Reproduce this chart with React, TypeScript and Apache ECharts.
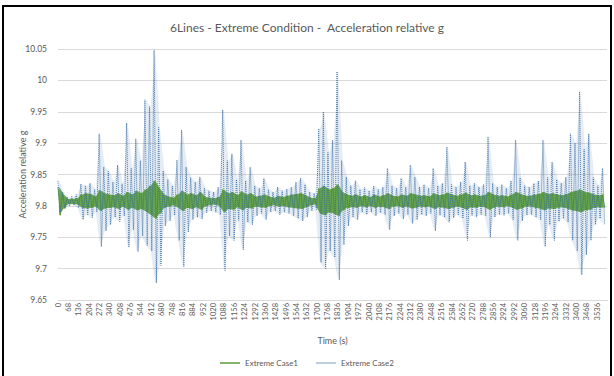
import React, { useEffect, useRef } from "react";
import * as echarts from "echarts";

// Time step (s) between envelope samples
const SAMPLE_STEP = 30;

const seriesNames = ["Extreme Case1", "Extreme Case2"];
const titleText = "6Lines - Extreme Condition -  Acceleration relative g";
const yAxisTitle = "Acceleration relative g";
const xAxisTitle = "Time (s)";

// Extreme Case1 (green) – upper / lower envelope per 30 s window
const case1Hi = [
  9.830, 9.818, 9.811, 9.811, 9.812, 9.818, 9.820, 9.819, 9.815, 9.825,
  9.820, 9.818, 9.817, 9.820, 9.816, 9.822, 9.818, 9.824, 9.820, 9.826,
  9.832, 9.840, 9.828, 9.818, 9.815, 9.813, 9.818, 9.824, 9.818, 9.820,
  9.817, 9.822, 9.814, 9.813, 9.812, 9.814, 9.826, 9.820, 9.822, 9.817,
  9.823, 9.818, 9.820, 9.815, 9.816, 9.818, 9.815, 9.813, 9.816, 9.814,
  9.816, 9.818, 9.819, 9.820, 9.817, 9.813, 9.812, 9.828, 9.832, 9.826,
  9.828, 9.834, 9.822, 9.818, 9.816, 9.818, 9.815, 9.817, 9.814, 9.818,
  9.815, 9.817, 9.820, 9.816, 9.815, 9.818, 9.816, 9.820, 9.818, 9.816,
  9.817, 9.815, 9.820, 9.817, 9.818, 9.821, 9.818, 9.816, 9.818, 9.821,
  9.817, 9.818, 9.816, 9.817, 9.822, 9.818, 9.816, 9.817, 9.815, 9.818,
  9.822, 9.819, 9.816, 9.816, 9.818, 9.819, 9.822, 9.819, 9.820, 9.818,
  9.817, 9.819, 9.822, 9.824, 9.826, 9.822, 9.821, 9.818, 9.817, 9.818,
];
const case1Lo = [
  9.785, 9.796, 9.803, 9.803, 9.802, 9.797, 9.796, 9.797, 9.799, 9.792,
  9.796, 9.797, 9.798, 9.795, 9.799, 9.794, 9.797, 9.793, 9.795, 9.791,
  9.786, 9.780, 9.788, 9.797, 9.799, 9.801, 9.797, 9.792, 9.797, 9.795,
  9.798, 9.794, 9.800, 9.801, 9.802, 9.800, 9.790, 9.795, 9.794, 9.798,
  9.793, 9.797, 9.796, 9.799, 9.798, 9.797, 9.800, 9.801, 9.799, 9.800,
  9.798, 9.797, 9.796, 9.795, 9.798, 9.801, 9.802, 9.788, 9.785, 9.790,
  9.788, 9.784, 9.793, 9.797, 9.798, 9.797, 9.800, 9.798, 9.800, 9.797,
  9.799, 9.798, 9.795, 9.799, 9.800, 9.797, 9.799, 9.796, 9.797, 9.799,
  9.798, 9.799, 9.795, 9.798, 9.797, 9.795, 9.797, 9.799, 9.797, 9.794,
  9.798, 9.797, 9.799, 9.798, 9.794, 9.797, 9.799, 9.798, 9.800, 9.797,
  9.794, 9.796, 9.799, 9.799, 9.797, 9.796, 9.793, 9.796, 9.795, 9.797,
  9.798, 9.796, 9.793, 9.792, 9.790, 9.793, 9.794, 9.797, 9.798, 9.797,
];

// Extreme Case2 (blue, dotted) – upper / lower envelope per 30 s window
const case2Hi = [
  9.840, 9.822, 9.814, 9.815, 9.818, 9.835, 9.832, 9.836, 9.826, 9.915,
  9.862, 9.855, 9.838, 9.865, 9.835, 9.932, 9.860, 9.907, 9.872, 9.969,
  9.958, 10.048, 9.925, 9.856, 9.842, 9.832, 9.873, 9.921, 9.862, 9.845,
  9.838, 9.846, 9.828, 9.824, 9.822, 9.830, 9.953, 9.872, 9.883, 9.842,
  9.905, 9.840, 9.862, 9.832, 9.828, 9.844, 9.826, 9.822, 9.830, 9.824,
  9.827, 9.830, 9.838, 9.844, 9.834, 9.822, 9.820, 9.923, 9.950, 9.885,
  9.905, 10.014, 9.872, 9.846, 9.832, 9.840, 9.826, 9.829, 9.824, 9.832,
  9.826, 9.830, 9.860, 9.832, 9.828, 9.844, 9.830, 9.865, 9.846, 9.830,
  9.834, 9.828, 9.860, 9.832, 9.836, 9.894, 9.834, 9.830, 9.838, 9.870,
  9.832, 9.836, 9.830, 9.834, 9.910, 9.836, 9.830, 9.834, 9.828, 9.840,
  9.905, 9.845, 9.832, 9.830, 9.836, 9.840, 9.905, 9.845, 9.870, 9.842,
  9.836, 9.846, 9.915, 9.900, 9.982, 9.890, 9.915, 9.845, 9.832, 9.860,
];
const case2Lo = [
  9.790, 9.796, 9.800, 9.801, 9.797, 9.778, 9.786, 9.781, 9.790, 9.735,
  9.760, 9.770, 9.782, 9.775, 9.784, 9.734, 9.762, 9.727, 9.752, 9.737,
  9.728, 9.677, 9.705, 9.768, 9.776, 9.785, 9.745, 9.703, 9.758, 9.778,
  9.782, 9.779, 9.789, 9.792, 9.790, 9.786, 9.697, 9.752, 9.745, 9.777,
  9.730, 9.774, 9.770, 9.784, 9.788, 9.778, 9.790, 9.792, 9.786, 9.790,
  9.788, 9.784, 9.780, 9.776, 9.782, 9.792, 9.794, 9.710, 9.700, 9.728,
  9.718, 9.682, 9.738, 9.768, 9.782, 9.778, 9.790, 9.786, 9.790, 9.784,
  9.789, 9.786, 9.762, 9.784, 9.788, 9.779, 9.786, 9.772, 9.778, 9.786,
  9.784, 9.788, 9.760, 9.785, 9.782, 9.774, 9.781, 9.786, 9.780, 9.745,
  9.785, 9.782, 9.786, 9.784, 9.750, 9.782, 9.786, 9.785, 9.788, 9.778,
  9.745, 9.776, 9.785, 9.786, 9.782, 9.778, 9.735, 9.770, 9.745, 9.775,
  9.780, 9.774, 9.745, 9.728, 9.690, 9.722, 9.745, 9.770, 9.780, 9.770,
];

// Each window contributes its high value then its low value (the trace's swing)
function buildTrace(hi: number[], lo: number[]): [number, number][] {
  const out: [number, number][] = [];
  for (let i = 0; i < hi.length; i++) {
    out.push([i * SAMPLE_STEP, hi[i]]);
    out.push([i * SAMPLE_STEP + SAMPLE_STEP / 2, lo[i]]);
  }
  return out;
}

const FONT = "Lato, 'Open Sans', sans-serif";
const TEXT = "#595959";
const GREEN = "#5a9c3e";
const BLUE = "#3a6ea5";

// Envelope band (hi edge forward, lo edge back) drawn through the grid's scales
function bandSeries(id: string, hi: number[], lo: number[], color: string, opacity: number, z: number) {
  return {
    id,
    name: id,
    type: "custom",
    silent: true,
    clip: true,
    z,
    data: [[0, hi[0]]],
    renderItem: (_params: any, api: any) => {
      const pts: number[][] = [];
      for (let i = 0; i < hi.length; i++) {
        pts.push(api.coord([i * SAMPLE_STEP + SAMPLE_STEP / 4, hi[i]]));
      }
      for (let i = lo.length - 1; i >= 0; i--) {
        pts.push(api.coord([i * SAMPLE_STEP + SAMPLE_STEP / 4, lo[i]]));
      }
      return {
        type: "polygon",
        shape: { points: pts },
        style: { fill: color, opacity },
      };
    },
  };
}

export default function App() {
  const ref = useRef<HTMLDivElement>(null);

  useEffect(() => {
    document.body.style.margin = "0";
    if (!ref.current) return;
    const chart = echarts.init(ref.current, null, { renderer: "svg" });
    chart.setOption({
      animation: false,
      backgroundColor: "#ffffff",
      textStyle: { fontFamily: FONT },
      title: {
        text: titleText,
        left: "center",
        top: 21,
        padding: 0,
        textStyle: { fontFamily: FONT, fontSize: 12, fontWeight: "normal", color: TEXT },
      },
      graphic: [
        {
          type: "rect",
          silent: true,
          shape: { x: 3, y: 6, width: 608, height: 380 },
          style: { fill: "none", stroke: "#000000", lineWidth: 2 },
        },
      ],
      legend: {
        data: [
          { name: seriesNames[0], icon: "rect", itemStyle: { color: GREEN } },
          { name: seriesNames[1], icon: "rect", itemStyle: { color: "#a9bcd2" } },
        ],
        left: "center",
        top: 354,
        itemWidth: 20,
        itemHeight: 1.5,
        itemGap: 18,
        textStyle: { fontFamily: FONT, fontSize: 8, color: TEXT },
      },
      grid: { left: 58, right: 7, top: 49, bottom: 76 },
      xAxis: {
        type: "value",
        min: 0,
        max: 3600,
        interval: 68,
        name: xAxisTitle,
        nameLocation: "middle",
        nameGap: 36,
        nameMoveOverlap: false,
        nameTextStyle: { fontFamily: FONT, fontSize: 9, color: TEXT },
        axisLine: { show: true, lineStyle: { color: "#d9d9d9", width: 1 } },
        axisTick: { show: false },
        splitLine: { show: false },
        axisLabel: {
          rotate: 90,
          fontSize: 7.5,
          color: TEXT,
          margin: 3,
          showMaxLabel: false,
          fontFamily: FONT,
          formatter: (v: number) => String(v),
        },
      },
      yAxis: {
        type: "value",
        min: 9.65,
        max: 10.05,
        interval: 0.05,
        name: yAxisTitle,
        nameLocation: "middle",
        nameGap: 31,
        nameMoveOverlap: false,
        nameTextStyle: { fontFamily: FONT, fontSize: 9, color: TEXT },
        axisLine: { show: false },
        axisTick: { show: false },
        splitLine: { lineStyle: { color: "#d9d9d9", width: 1 } },
        axisLabel: {
          fontSize: 8.5,
          color: TEXT,
          margin: 11,
          fontFamily: FONT,
          formatter: (v: number) => String(Math.round(v * 100) / 100),
        },
      },
      series: [
        bandSeries("case2band", case2Hi, case2Lo, BLUE, 0.13, 1),
        bandSeries("case1band", case1Hi, case1Lo, GREEN, 0.9, 2),
        {
          name: seriesNames[0],
          type: "line",
          data: buildTrace(case1Hi, case1Lo),
          symbol: "none",
          lineStyle: { color: GREEN, width: 1 },
          itemStyle: { color: GREEN },
          z: 3,
        },
        {
          name: seriesNames[1],
          type: "line",
          data: buildTrace(case2Hi, case2Lo),
          symbol: "none",
          lineStyle: { color: BLUE, width: 0.9, type: [1, 1] },
          itemStyle: { color: BLUE },
          z: 4,
        },
      ],
    });
    return () => chart.dispose();
  }, []);

  return <div ref={ref} style={{ width: 614, height: 376 }} />;
}
